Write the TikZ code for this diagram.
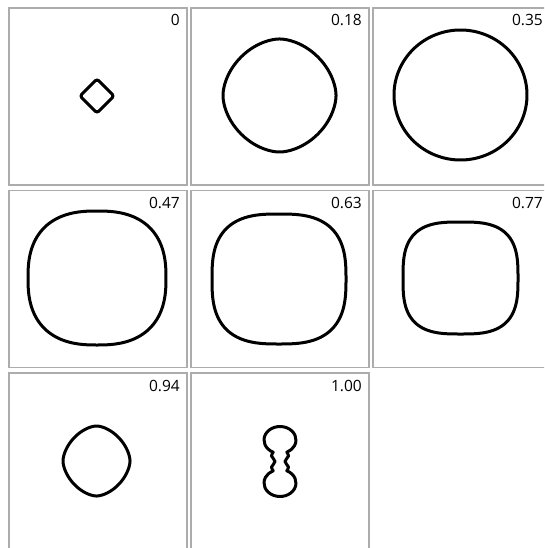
\documentclass[tikz,border=0pt]{standalone}
\usepackage{fontspec}
\setmainfont{Open Sans}
\begin{document}
\begin{tikzpicture}[x=1pt,y=-1pt,
  panel/.style={draw=gray!65,line width=1.6pt,minimum width=178pt,minimum height=177pt,inner sep=0pt,anchor=north west},
  tlabel/.style={anchor=base east,inner sep=0pt,font=\fontsize{15.5}{15.5}\selectfont},
  curve/.style={line width=3pt,line join=round}]
\useasboundingbox (0,0) rectangle (544,548);
\clip (0,0) rectangle (544,548);
% panels
\node[panel] (p1) at (8,7) {};
\node[panel] (p2) at (190,7) {};
\node[panel] (p3) at (372,7) {};
\node[panel] (p4) at (8,189.5) {};
\node[panel] (p5) at (190,189.5) {};
\node[panel] (p6) at (372,189.5) {};
\node[panel] (p7) at (8,372) {};
\node[panel] (p8) at (190,372) {};
% labels
\node[tlabel] (l1) at (180,26) {0};
\node[tlabel] (l2) at (362,26) {0.18};
\node[tlabel] (l3) at (543,26) {0.35};
\node[tlabel] (l4) at (180,208) {0.47};
\node[tlabel] (l5) at (362,208) {0.63};
\node[tlabel] (l6) at (543,208) {0.77};
\node[tlabel] (l7) at (180,391) {0.94};
\node[tlabel] (l8) at (362,391) {1.00};
% shapes
\draw[curve,rounded corners=2.5pt] (97,79)--(114,96)--(97,113)--(80,96)--cycle;
\def\supell#1#2#3#4#5{%
  \draw[curve] plot[domain=1:361,samples=181,smooth cycle]
   ({#1+#3*cos(\x)*pow(abs(cos(\x))+0.00001,2/#5-1)},{#2+#4*sin(\x)*pow(abs(sin(\x))+0.00001,2/#5-1)});}
\supell{279.5}{95.5}{56.5}{56.5}{1.8}
\supell{460.5}{95}{66.5}{65}{2}
\supell{97}{278}{69}{67}{2.5}
\supell{279}{279}{67}{65}{2.8}
\supell{460.5}{278}{57.5}{56}{3.0}
\supell{96.5}{461}{33.5}{35}{1.7}
% dumbbell
\draw[curve] (273.24,452.24) arc[start angle=115,end angle=425,x radius=16,y radius=13.5]
  -- plot[smooth,tension=0.6] coordinates {(286.76,452.24) (288.5,456) (285,461.5) (288.5,467) (286.76,470.76)}
  arc[start angle=-65,end angle=245,x radius=16,y radius=13.5]
  -- plot[smooth,tension=0.6] coordinates {(273.24,470.76) (271.5,467) (275,461.5) (271.5,456) (273.24,452.24)}
  -- cycle;
\end{tikzpicture}
\end{document}
